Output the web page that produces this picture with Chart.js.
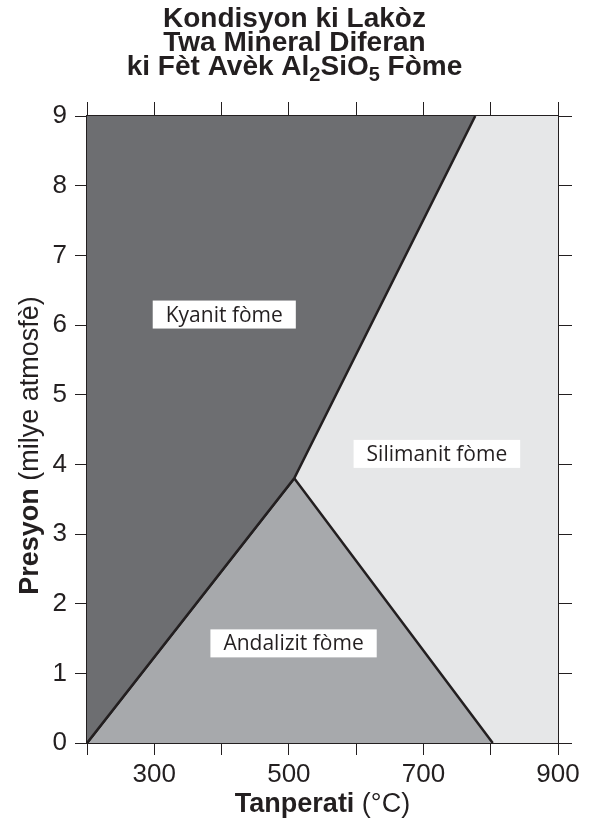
<!DOCTYPE html>
<html>
<head>
<meta charset="utf-8">
<script src="https://cdn.jsdelivr.net/npm/chart.js@4.4.1/dist/chart.umd.min.js"></script>
<style>
  body { margin: 0; background: #fff; }
  #wrap { width: 589px; height: 820px; }
</style>
</head>
<body>
<div id="wrap"><canvas id="myChart" width="589" height="820"></canvas></div>
<script>
// phase boundaries, temperature (°C) vs pressure (milye atmosfè)
const kyaniteT = [200, 508, 777];
const kyaniteP = [0, 3.8, 9];
const andalusiteT = [200, 508, 803];
const andalusiteP = [0, 3.8, 0];
const sillimaniteT = [200, 900];
const sillimaniteP = [9, 9];

// tick labels
const xTicks = [200, 300, 400, 500, 600, 700, 800, 900];
const xTickLabels = ['', '300', '', '500', '', '700', '', '900'];
const yTicks = [0, 1, 2, 3, 4, 5, 6, 7, 8, 9];

// field names and where they sit
const fieldNames = ['Kyanit fòme', 'Silimanit fòme', 'Andalizit fòme'];
const fieldT = [404, 720, 507];
const fieldP = [6.15, 4.15, 1.43];

const ink = '#231f20';

function toPoints(xs, ys) {
  return xs.map((v, i) => ({ x: v, y: ys[i] }));
}

// title, axis titles and field labels
const textPlugin = {
  id: 'textPlugin',
  afterDraw(chart) {
    const ctx = chart.ctx;
    const xs = chart.scales.x, ys = chart.scales.y;
    const area = chart.chartArea;
    ctx.save();
    ctx.fillStyle = ink;
    ctx.textBaseline = 'alphabetic';

    // title
    const tf = 'bold 28px "Liberation Sans", Arial, sans-serif';
    const sf = 'bold 20px "Liberation Sans", Arial, sans-serif';
    ctx.font = tf;
    ctx.textAlign = 'center';
    const cx = chart.width / 2;
    ctx.fillText('Kondisyon ki Lakòz', cx, 27);
    ctx.fillText('Twa Mineral Diferan', cx, 51);
    const parts = [['ki Fèt Avèk Al', tf, 0], ['2', sf, 6], ['SiO', tf, 0], ['5', sf, 6], [' Fòme', tf, 0]];
    let total = 0;
    parts.forEach(p => { ctx.font = p[1]; total += ctx.measureText(p[0]).width; });
    let px = cx - total / 2;
    ctx.textAlign = 'left';
    parts.forEach(p => {
      ctx.font = p[1];
      ctx.fillText(p[0], px, 75 + p[2]);
      px += ctx.measureText(p[0]).width;
    });

    // x axis title
    const bf = 'bold 27px "Liberation Sans", Arial, sans-serif';
    const nf = '27px "Liberation Sans", Arial, sans-serif';
    ctx.font = bf;
    const w1 = ctx.measureText('Tanperati').width;
    ctx.font = nf;
    const w2 = ctx.measureText(' (°C)').width;
    let sx = (area.left + area.right) / 2 - (w1 + w2) / 2;
    ctx.font = bf;
    ctx.fillText('Tanperati', sx, 812);
    ctx.font = nf;
    ctx.fillText(' (°C)', sx + w1, 812);

    // y axis title
    ctx.save();
    ctx.translate(38, (area.top + area.bottom) / 2 + 16);
    ctx.rotate(-Math.PI / 2);
    ctx.font = bf;
    const h1 = ctx.measureText('Presyon').width;
    ctx.font = nf;
    const h2 = ctx.measureText(' (milye atmosfè)').width;
    ctx.font = bf;
    ctx.fillText('Presyon', -(h1 + h2) / 2, 0);
    ctx.font = nf;
    ctx.fillText(' (milye atmosfè)', -(h1 + h2) / 2 + h1, 0);
    ctx.restore();

    // field labels in white boxes
    ctx.font = '21px "Open Sans", "Noto Sans", sans-serif';
    ctx.textAlign = 'center';
    ctx.textBaseline = 'middle';
    fieldNames.forEach((name, i) => {
      const lx = xs.getPixelForValue(fieldT[i]);
      const ly = ys.getPixelForValue(fieldP[i]);
      const w = ctx.measureText(name).width + 26;
      ctx.fillStyle = '#fff';
      ctx.fillRect(lx - w / 2, ly - 14, w, 28);
      ctx.fillStyle = ink;
      ctx.fillText(name, lx, ly + 1);
    });
    ctx.restore();
  }
};

function baseScale(pos, min, max, size) {
  const horiz = pos === 'top' || pos === 'bottom';
  return {
    type: 'linear',
    position: pos,
    min: min,
    max: max,
    z: 1,
    ticks: { display: false, stepSize: 1 },
    grid: { drawOnChartArea: false, drawTicks: true, tickLength: 12, color: ink, lineWidth: 1 },
    border: { display: true, color: ink, width: 2 },
    afterFit: function(scale) {
      if (horiz) scale.height = size; else scale.width = size;
    }
  };
}

const xScale = baseScale('bottom', 200, 900, 77);
xScale.ticks = {
  display: true, stepSize: 100, color: ink, padding: 4,
  font: { family: '"Liberation Sans", Arial, sans-serif', size: 26 },
  maxRotation: 0, autoSkip: false,
  callback: v => xTickLabels[xTicks.indexOf(v)]
};
const x2Scale = baseScale('top', 200, 900, 116);
x2Scale.ticks = { display: false, stepSize: 100 };
x2Scale.grid.tickLength = 14;

const yScale = baseScale('left', 0, 9, 87);
yScale.ticks = {
  display: true, stepSize: 1, color: ink, padding: 8,
  font: { family: '"Liberation Sans", Arial, sans-serif', size: 26 },
  callback: v => yTicks.includes(v) ? String(v) : ''
};
const y2Scale = baseScale('right', 0, 9, 31);
y2Scale.grid.tickLength = 14;

const ctx = document.getElementById('myChart').getContext('2d');
new Chart(ctx, {
  type: 'scatter',
  data: {
    datasets: [
      {
        label: 'Kyanit',
        data: toPoints(kyaniteT, kyaniteP),
        showLine: true,
        fill: 'end',
        backgroundColor: '#6d6e71',
        borderColor: ink,
        borderWidth: 2.5,
        pointRadius: 0,
        order: 1
      },
      {
        label: 'Andalizit',
        data: toPoints(andalusiteT, andalusiteP),
        showLine: true,
        fill: 'origin',
        backgroundColor: '#a7a9ac',
        borderColor: ink,
        borderWidth: 2.5,
        pointRadius: 0,
        order: 2
      },
      {
        label: 'Silimanit',
        data: toPoints(sillimaniteT, sillimaniteP),
        showLine: true,
        fill: 'origin',
        backgroundColor: '#e6e7e8',
        borderColor: 'rgba(0,0,0,0)',
        borderWidth: 0,
        pointRadius: 0,
        order: 3
      }
    ]
  },
  options: {
    responsive: false,
    animation: false,
    layout: { padding: 0 },
    plugins: {
      legend: { display: false },
      tooltip: { enabled: false },
      title: { display: false }
    },
    scales: {
      x: xScale,
      x2: x2Scale,
      y: yScale,
      y2: y2Scale
    }
  },
  plugins: [textPlugin]
});
</script>
</body>
</html>
